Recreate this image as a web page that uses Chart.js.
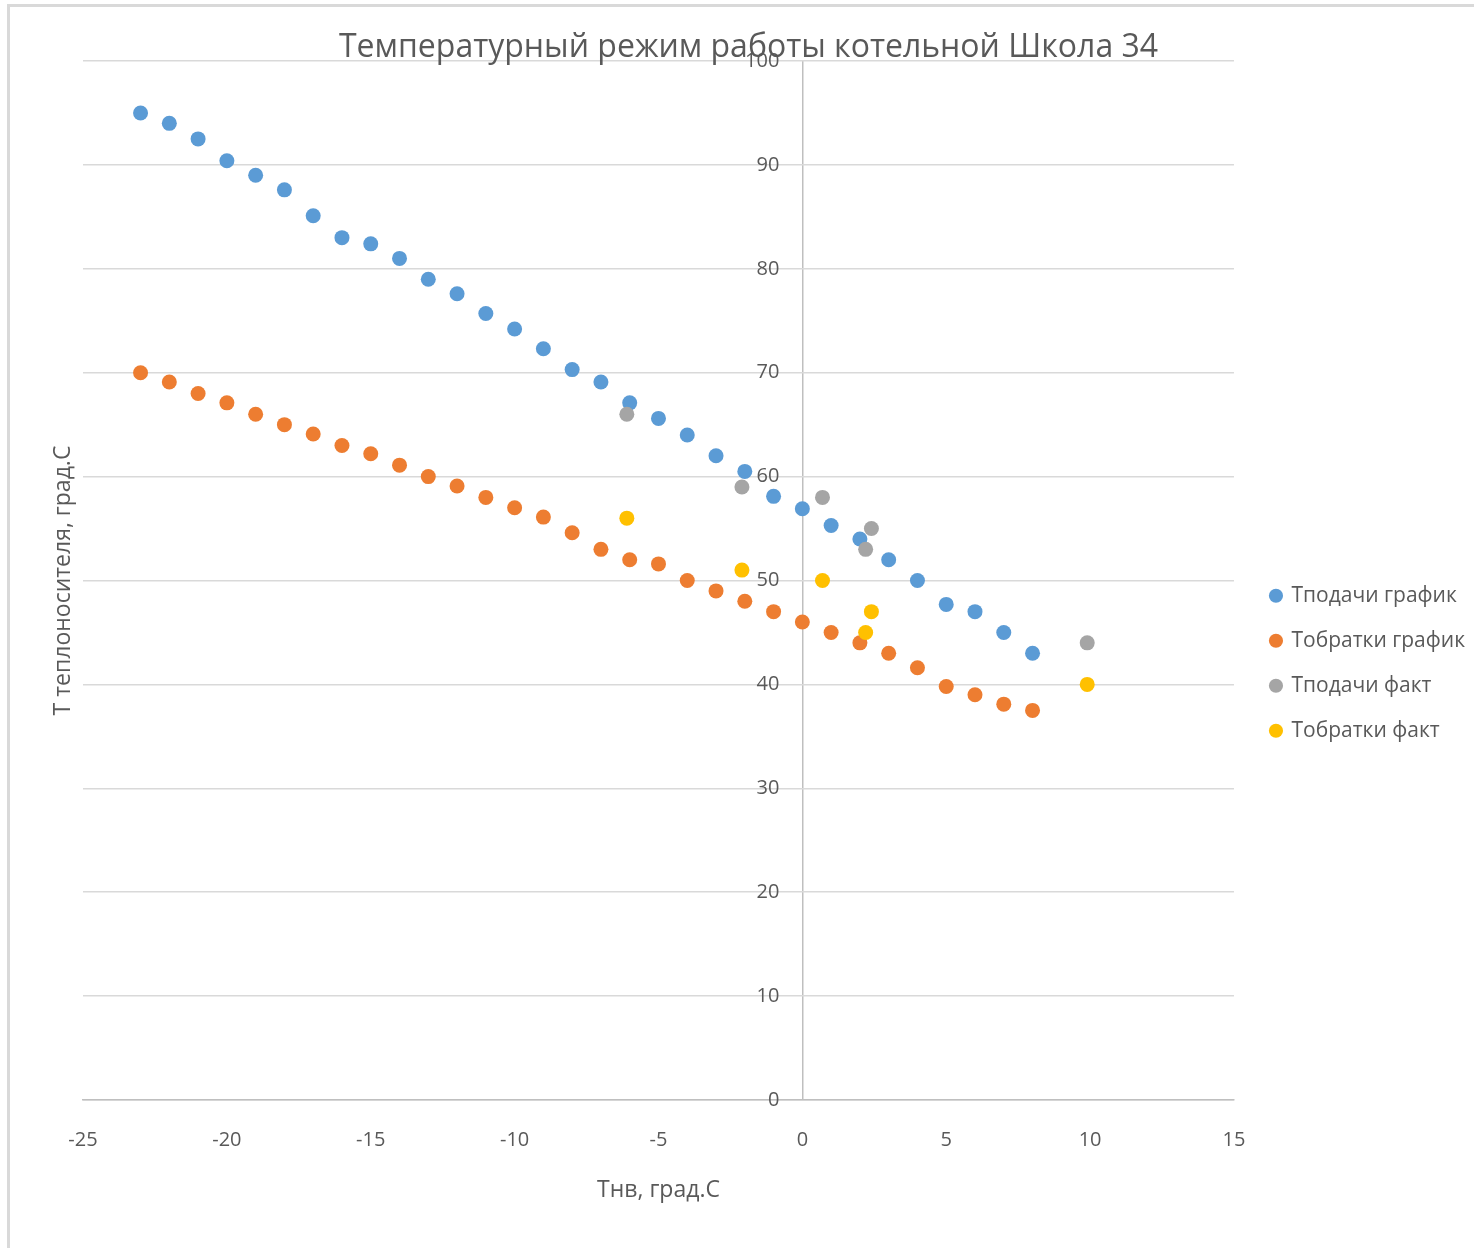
<!DOCTYPE html>
<html>
<head>
<meta charset="utf-8">
<script src="https://cdn.jsdelivr.net/npm/chart.js@4.4.1/dist/chart.umd.min.js"></script>
<style>
    body { margin: 0; background: #ffffff; }
    #wrap { position: relative; width: 1474px; height: 1248px; }
    #frame {
        position: absolute; left: 7px; top: 4px; right: 0; bottom: 0;
        border-left: 3px solid #d9d9d9; border-top: 3px solid #d9d9d9;
        pointer-events: none;
    }
</style>
</head>
<body>
<div id="wrap">
    <canvas id="chart" width="1474" height="1248"></canvas>
    <div id="frame"></div>
</div>
<script>
// Outdoor temperature points for the schedule series
const scheduleTemps = [-23, -22, -21, -20, -19, -18, -17, -16, -15, -14, -13, -12, -11, -10, -9, -8,
    -7, -6, -5, -4, -3, -2, -1, 0, 1, 2, 3, 4, 5, 6, 7, 8];
const supplySchedule = [95, 94, 92.5, 90.4, 89, 87.6, 85.1, 83, 82.4, 81, 79, 77.6, 75.7, 74.2, 72.3, 70.3,
    69.1, 67.1, 65.6, 64, 62, 60.5, 58.1, 56.9, 55.3, 54, 52, 50, 47.7, 47, 45, 43];
const returnSchedule = [70, 69.1, 68, 67.1, 66, 65, 64.1, 63, 62.2, 61.1, 60, 59.1, 58, 57, 56.1, 54.6,
    53, 52, 51.6, 50, 49, 48, 47, 46, 45, 44, 43, 41.6, 39.8, 39, 38.1, 37.5];

// Measured values
const factTemps = [-6.1, -2.1, 0.7, 2.2, 2.4, 9.9];
const supplyFact = [66, 59, 58, 53, 55, 44];
const returnFact = [56, 51, 50, 45, 47, 40];

const seriesNames = ['Тподачи график', 'Тобратки график', 'Тподачи факт', 'Тобратки факт'];
const seriesColors = ['#5b9bd5', '#ed7d31', '#a5a5a5', '#ffc000'];

const xTicks = { min: -25, max: 15, step: 5 };
const yTicks = { min: 0, max: 100, step: 10 };

function toPoints(xs, ys) {
    return xs.map((x, i) => ({ x: x, y: ys[i] }));
}

Chart.defaults.font.family = '"Open Sans", sans-serif';
Chart.defaults.color = '#595959';

// y labels sit next to the vertical line at x = 0, like in Excel
const centerYLabels = {
    id: 'centerYLabels',
    beforeDatasetsDraw(chart) {
        const xs = chart.scales.x;
        const ys = chart.scales.y;
        const ctx = chart.ctx;
        const x0 = xs.getPixelForValue(0);
        ctx.save();
        ctx.font = '20px "Open Sans", sans-serif';
        ctx.fillStyle = '#595959';
        ctx.textAlign = 'right';
        ctx.textBaseline = 'middle';
        ys.ticks.forEach(t => {
            ctx.fillText(String(t.value), x0 - 23, ys.getPixelForValue(t.value));
        });
        ctx.restore();
    }
};

const datasets = [
    toPoints(scheduleTemps, supplySchedule),
    toPoints(scheduleTemps, returnSchedule),
    toPoints(factTemps, supplyFact),
    toPoints(factTemps, returnFact)
].map((data, i) => ({
    label: seriesNames[i],
    data: data,
    backgroundColor: seriesColors[i],
    borderColor: seriesColors[i],
    borderWidth: 0,
    pointRadius: 7.5,
    pointHoverRadius: 7.5,
    order: 4 - i
}));

new Chart(document.getElementById('chart'), {
    type: 'scatter',
    data: { datasets: datasets },
    plugins: [centerYLabels],
    options: {
        responsive: false,
        animation: false,
        layout: { padding: { left: 22, right: -1, top: 0, bottom: 44 } },
        plugins: {
            title: {
                display: true,
                text: 'Температурный режим работы котельной Школа 34',
                font: { size: 32, weight: 'normal' },
                color: '#595959',
                padding: { top: 29, bottom: -6.4 }
            },
            legend: {
                position: 'right',
                labels: {
                    usePointStyle: true,
                    pointStyle: 'circle',
                    boxWidth: 10,
                    boxHeight: 10,
                    padding: 24,
                    font: { size: 21 },
                    color: '#595959',
                    sort: (a, b) => a.datasetIndex - b.datasetIndex
                },
                title: { display: true, text: '', padding: 54 }
            },
            tooltip: { enabled: false }
        },
        scales: {
            x: {
                type: 'linear',
                min: xTicks.min,
                max: xTicks.max,
                ticks: { stepSize: xTicks.step, padding: 28, font: { size: 20 }, color: '#595959' },
                grid: {
                    drawTicks: false,
                    color: ctx => (ctx.tick && ctx.tick.value === 0) ? '#bfbfbf' : 'rgba(0,0,0,0)',
                    lineWidth: 1.5
                },
                border: { display: true, color: '#bfbfbf', width: 1.5 },
                title: {
                    display: true,
                    text: 'Тнв, град.С',
                    font: { size: 23 },
                    color: '#595959',
                    padding: { top: -3.6, bottom: 0 }
                }
            },
            y: {
                type: 'linear',
                min: yTicks.min,
                max: yTicks.max,
                ticks: { stepSize: yTicks.step, display: false },
                grid: { drawTicks: false, color: '#d9d9d9', lineWidth: 1.5 },
                border: { display: false },
                title: {
                    display: true,
                    text: 'Т теплоносителя, град.С',
                    font: { size: 23 },
                    color: '#595959',
                    padding: { top: 27.2, bottom: 6.2 }
                }
            },
            // empty spacer between the plot and the legend
            gap: {
                type: 'linear',
                position: 'right',
                min: yTicks.min,
                max: yTicks.max,
                ticks: { display: false },
                grid: { display: false, drawTicks: false },
                border: { display: false },
                afterFit: scale => { scale.width = 13; }
            }
        }
    }
});
</script>
</body>
</html>
